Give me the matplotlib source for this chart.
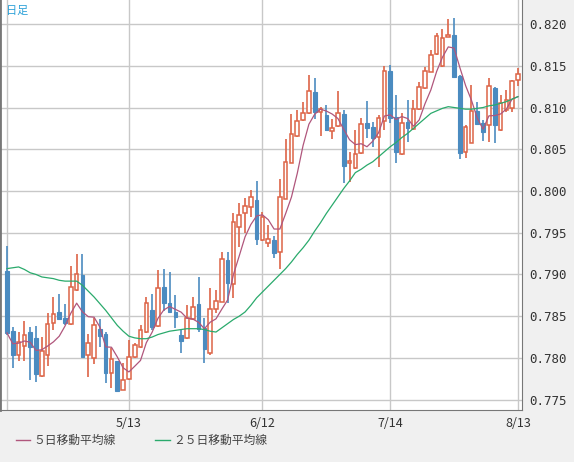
import numpy as np
import pandas as pd
import matplotlib
matplotlib.use("Agg")
import matplotlib.pyplot as plt
from matplotlib.lines import Line2D

plt.rcParams['font.family'] = ['Noto Sans CJK JP', 'DejaVu Sans']

# daily OHLC
opens = [0.7904, 0.7832, 0.7804, 0.7814, 0.7831, 0.7824, 0.7778, 0.7803, 0.7842, 0.7855,
         0.7848, 0.7841, 0.7881, 0.7899, 0.7803, 0.7800, 0.7835, 0.7829, 0.7782, 0.7796,
         0.7762, 0.7775, 0.7801, 0.7813, 0.7831, 0.7857, 0.7838, 0.7885, 0.7866, 0.7855,
         0.7828, 0.7824, 0.7847, 0.7865, 0.7836, 0.7806, 0.7859, 0.7867, 0.7917, 0.7889,
         0.7957, 0.7974, 0.7981, 0.7989, 0.7941, 0.7938, 0.7941, 0.7927, 0.7990, 0.8034,
         0.8066, 0.8085, 0.8093, 0.8119, 0.8095, 0.8091, 0.8072, 0.8078, 0.8092, 0.8033,
         0.8028, 0.8046, 0.8081, 0.8077, 0.8065, 0.8084, 0.8144, 0.8089, 0.8044, 0.8083,
         0.8074, 0.8098, 0.8123, 0.8142, 0.8164, 0.8150, 0.8185, 0.8187, 0.8138, 0.8047,
         0.8058, 0.8096, 0.8081, 0.8079, 0.8123, 0.8073, 0.8097, 0.8099, 0.8133]
highs = [0.7934, 0.7837, 0.7831, 0.7844, 0.7837, 0.7838, 0.7825, 0.7854, 0.7873, 0.7877,
         0.7865, 0.7910, 0.7925, 0.7925, 0.7829, 0.7848, 0.7847, 0.7831, 0.7812, 0.7796,
         0.7794, 0.7822, 0.7818, 0.7839, 0.7873, 0.7877, 0.7905, 0.7906, 0.7903, 0.7875,
         0.7834, 0.7863, 0.7873, 0.7897, 0.7848, 0.7884, 0.7881, 0.7927, 0.7927, 0.7974,
         0.7986, 0.7992, 0.8001, 0.8012, 0.7975, 0.7959, 0.7946, 0.8014, 0.8062, 0.8092,
         0.8097, 0.8107, 0.8139, 0.8135, 0.8101, 0.8103, 0.8086, 0.8120, 0.8097, 0.8047,
         0.8073, 0.8087, 0.8108, 0.8083, 0.8091, 0.8150, 0.8151, 0.8115, 0.8093, 0.8109,
         0.8109, 0.8131, 0.8148, 0.8169, 0.8189, 0.8194, 0.8206, 0.8207, 0.8139, 0.8079,
         0.8127, 0.8107, 0.8085, 0.8135, 0.8125, 0.8115, 0.8121, 0.8133, 0.8147]
lows = [0.7828, 0.7788, 0.7796, 0.7796, 0.7774, 0.7771, 0.7777, 0.7790, 0.7834, 0.7846,
        0.7839, 0.7839, 0.7880, 0.7801, 0.7777, 0.7793, 0.7813, 0.7770, 0.7764, 0.7760,
        0.7761, 0.7774, 0.7800, 0.7812, 0.7830, 0.7834, 0.7837, 0.7856, 0.7854, 0.7836,
        0.7806, 0.7823, 0.7846, 0.7831, 0.7794, 0.7804, 0.7854, 0.7867, 0.7866, 0.7872,
        0.7933, 0.7950, 0.7969, 0.7935, 0.7940, 0.7933, 0.7920, 0.7907, 0.7990, 0.8033,
        0.8065, 0.8084, 0.8092, 0.8086, 0.8066, 0.8072, 0.8062, 0.8077, 0.8010, 0.8011,
        0.8026, 0.8044, 0.8063, 0.8053, 0.8029, 0.8073, 0.8081, 0.8034, 0.8043, 0.8059,
        0.8073, 0.8097, 0.8122, 0.8142, 0.8163, 0.8149, 0.8185, 0.8136, 0.8038, 0.8040,
        0.8057, 0.8079, 0.8060, 0.8059, 0.8057, 0.8072, 0.8095, 0.8095, 0.8126]
closes = [0.7830, 0.7804, 0.7819, 0.7828, 0.7813, 0.7781, 0.7808, 0.7841, 0.7853, 0.7847,
          0.7842, 0.7885, 0.7901, 0.7801, 0.7818, 0.7839, 0.7826, 0.7782, 0.7799, 0.7760,
          0.7774, 0.7801, 0.7816, 0.7834, 0.7866, 0.7837, 0.7884, 0.7866, 0.7855, 0.7849,
          0.7820, 0.7848, 0.7861, 0.7835, 0.7811, 0.7859, 0.7868, 0.7919, 0.7890, 0.7963,
          0.7971, 0.7982, 0.7993, 0.7942, 0.7969, 0.7942, 0.7926, 0.7993, 0.8035, 0.8068,
          0.8084, 0.8093, 0.8120, 0.8095, 0.8098, 0.8073, 0.8075, 0.8093, 0.8030, 0.8036,
          0.8044, 0.8080, 0.8075, 0.8063, 0.8087, 0.8144, 0.8087, 0.8047, 0.8081, 0.8075,
          0.8098, 0.8125, 0.8144, 0.8163, 0.8186, 0.8183, 0.8187, 0.8137, 0.8046, 0.8077,
          0.8096, 0.8080, 0.8071, 0.8126, 0.8079, 0.8105, 0.8109, 0.8132, 0.8140]

# 25-day moving average as drawn (needs history before the visible range)
ma25 = [0.7907, 0.7908, 0.7909, 0.7906, 0.7902, 0.7900, 0.7897, 0.7896, 0.7895, 0.7893,
        0.7892, 0.7892, 0.7892, 0.7887, 0.7880, 0.7873, 0.7865, 0.7857, 0.7848, 0.7839,
        0.7832, 0.7826, 0.7824, 0.7823, 0.7823, 0.7825, 0.7828, 0.7830, 0.7832, 0.7833,
        0.7834, 0.7835, 0.7835, 0.7835, 0.7834, 0.7832, 0.7831, 0.7836, 0.7841, 0.7846,
        0.7850, 0.7855, 0.7863, 0.7872, 0.7879, 0.7886, 0.7893, 0.7900, 0.7907, 0.7915,
        0.7924, 0.7932, 0.7941, 0.7952, 0.7962, 0.7973, 0.7983, 0.7993, 0.8003, 0.8012,
        0.8022, 0.8026, 0.8031, 0.8035, 0.8041, 0.8047, 0.8053, 0.8058, 0.8064, 0.8069,
        0.8075, 0.8081, 0.8087, 0.8093, 0.8096, 0.8099, 0.8101, 0.8100, 0.8099, 0.8098,
        0.8098, 0.8099, 0.8100, 0.8102, 0.8103, 0.8105, 0.8107, 0.8110, 0.8113]

tick_pos = [0, 21, 44, 66, 88]
tick_labels = ['', '5/13', '6/12', '7/14', '8/13']
price_ticks = [0.775, 0.780, 0.785, 0.790, 0.795, 0.800, 0.805, 0.810, 0.815, 0.820]

UP = '#dd6447'
DOWN = '#4b8bc0'

df = pd.DataFrame({'o': opens, 'h': highs, 'l': lows, 'c': closes})
ma5 = df['c'].rolling(5, min_periods=1).mean()
x = np.arange(len(df))

fig = plt.figure(figsize=(5.74, 4.62), dpi=100, facecolor='#f0f0f0')
ax = fig.add_axes([0, 52 / 462, 522 / 574, 410 / 462])
ax.set_facecolor('white')

up = df['c'] >= df['o']
ax.vlines(x[up], df['l'][up], df['h'][up], color=UP, lw=1.2, zorder=2)
ax.vlines(x[~up], df['l'][~up], df['h'][~up], color=DOWN, lw=1.2, zorder=2)
ax.bar(x[up], (df['c'] - df['o'])[up], bottom=df['o'][up], width=0.62,
       facecolor='white', edgecolor=UP, lw=1.1, zorder=3)
ax.bar(x[~up], (df['o'] - df['c'])[~up], bottom=df['c'][~up], width=0.62,
       facecolor=DOWN, edgecolor=DOWN, lw=0.8, zorder=3)

ax.plot(x, ma5, color='#b0567c', lw=0.9, zorder=4)
ax.plot(x, ma25, color='#2aaa6c', lw=0.9, zorder=4)

ax.set_xlim(-1.2, 88.7)
ax.set_ylim(0.77376, 0.82288)
ax.set_xticks(tick_pos)
ax.set_xticklabels(tick_labels)
ax.set_yticks(price_ticks)
ax.set_yticklabels([f'{p:.3f}' for p in price_ticks], family='DejaVu Sans Mono')
ax.yaxis.tick_right()
ax.tick_params(length=0, labelsize=9, colors='#333333')
ax.tick_params(axis='y', pad=5)
ax.tick_params(axis='x', pad=5)
ax.grid(True, color='#c8c8c8', lw=1)
ax.set_axisbelow(True)
for s in ['top', 'left']:
    ax.spines[s].set_visible(False)
for s in ['right', 'bottom']:
    ax.spines[s].set_color('#777777')
ax.spines['left'].set_visible(True)
ax.spines['left'].set_color('#777777')
ax.spines['left'].set_linewidth(2)

ax.text(0.012, 0.985, '日足', transform=ax.transAxes, ha='left', va='top',
        fontsize=8, color='#2aa0d8')

# legend row
fig.add_artist(Line2D([16 / 574, 30 / 574], [22 / 462, 22 / 462], color='#b0567c', lw=1))
fig.text(33 / 574, 22 / 462, '５日移動平均線', fontsize=8.5, va='center', color='#444444')
fig.add_artist(Line2D([155 / 574, 170 / 574], [22 / 462, 22 / 462], color='#2aaa6c', lw=1))
fig.text(173 / 574, 22 / 462, '２５日移動平均線', fontsize=8.5, va='center', color='#444444')

fig.savefig('out.png', dpi=100, facecolor=fig.get_facecolor())
